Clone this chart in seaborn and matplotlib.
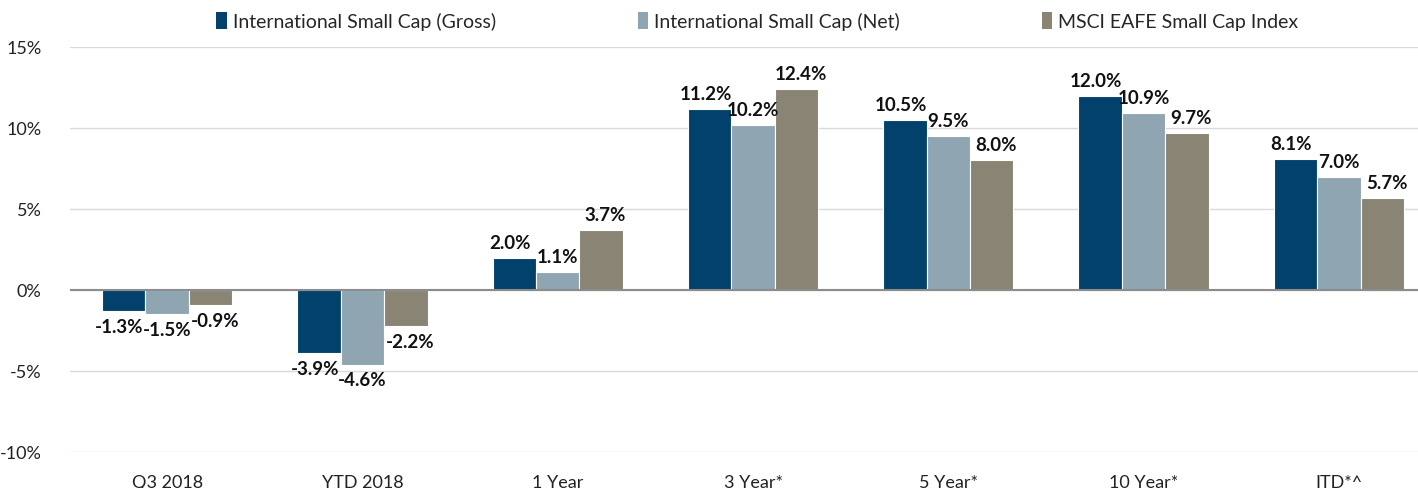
import matplotlib
matplotlib.use("Agg")
import matplotlib.pyplot as plt
import seaborn as sns
import pandas as pd
from matplotlib.ticker import FuncFormatter
from matplotlib.patches import Patch

categories = ["Q3 2018", "YTD 2018", "1 Year", "3 Year*", "5 Year*", "10 Year*", "ITD*^"]
series_names = ["International Small Cap (Gross)", "International Small Cap (Net)",
                "MSCI EAFE Small Cap Index"]
gross = [-1.3, -3.9, 2.0, 11.2, 10.5, 12.0, 8.1]
net = [-1.5, -4.6, 1.1, 10.2, 9.5, 10.9, 7.0]
index = [-0.9, -2.2, 3.7, 12.4, 8.0, 9.7, 5.7]
colors = ["#02416b", "#8fa5b2", "#8a8474"]

df = pd.DataFrame({
    "period": categories * 3,
    "series": [s for s in series_names for _ in categories],
    "value": gross + net + index,
})

sns.set_style("white")
plt.rcParams["font.family"] = ["Lato", "DejaVu Sans"]

fig = plt.figure(figsize=(14.18, 4.89), dpi=100)
ax = fig.add_axes([69.5 / 1418, 36 / 489, 1367 / 1418, 405 / 489])

sns.barplot(data=df, x="period", y="value", hue="series", order=categories,
            hue_order=series_names, palette=colors, width=0.667, saturation=1,
            edgecolor="white", linewidth=0.8, legend=False, ax=ax)

# nudge outer labels sideways so neighbouring labels don't collide
shifts = [-3, 0, 3]
for cont, vals, dx in zip(ax.containers, [gross, net, index], shifts):
    anns = ax.bar_label(cont, labels=[f"{v:.1f}%" for v in vals], padding=5,
                        fontsize=13.5, fontweight="bold", color="#111111")
    for a in anns:
        a.xyann = (dx, a.xyann[1])

ax.set_ylim(-10, 15)
ax.set_xlim(-0.5, 6.5)
ax.set_yticks([-10, -5, 0, 5, 10, 15])
ax.yaxis.set_major_formatter(FuncFormatter(lambda v, p: f"{v:.0f}%"))
ax.grid(axis="y", color="#d9d9d9", linewidth=1)
ax.axhline(0, color="#8c8c8c", linewidth=1.5, zorder=1)
ax.set_axisbelow(True)
for s in ax.spines.values():
    s.set_visible(False)
ax.set_xlabel("")
ax.set_ylabel("")
ax.tick_params(axis="both", length=0, labelsize=13, colors="#222222")
ax.tick_params(axis="y", pad=20)
ax.tick_params(axis="x", pad=16)

handles = [Patch(facecolor=c, edgecolor="none") for c in colors]
fig.legend(handles, series_names, loc="center", bbox_to_anchor=(0.534, 0.955),
           ncol=3, frameon=False, fontsize=14, handlelength=0.55, handleheight=1.0,
           handletextpad=0.3, columnspacing=7.3)

fig.savefig("out.png", dpi=100)
